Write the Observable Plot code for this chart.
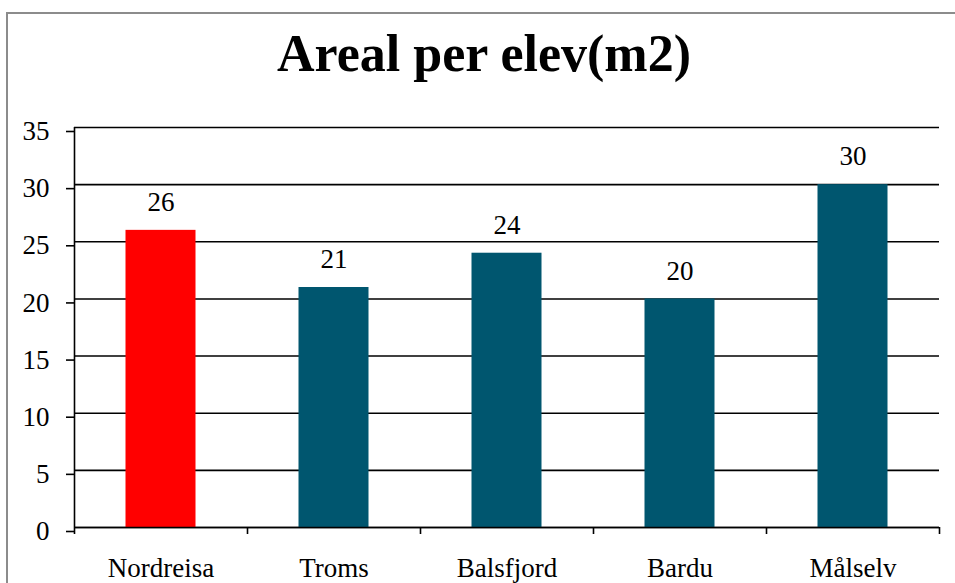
<!DOCTYPE html>
<html>
<head>
<meta charset="utf-8">
<script src="https://cdn.jsdelivr.net/npm/d3@7"></script>
<script src="https://cdn.jsdelivr.net/npm/@observablehq/plot@0.6"></script>
<style>
  html, body { margin: 0; padding: 0; background: #fff; overflow: hidden; }
  #wrap { position: relative; width: 955px; height: 583px; overflow: hidden; background: #fff; }
  #frame { position: absolute; left: 6px; top: 12px; width: 1200px; height: 1200px;
           border: 2px solid #8c8c8c; pointer-events: none; }
  #title { height: 110px; box-sizing: border-box; padding-top: 28px; padding-left: 13px;
           font: bold 52px/52px "Liberation Serif", serif; text-align: center; color: #000; }
  #chart svg { display: block; }
</style>
</head>
<body>
<div id="wrap">
  <div id="frame"></div>
  <div id="title">Areal per elev(m2)</div>
  <div id="chart"></div>
</div>
<script>
const categories = ["Nordreisa", "Troms", "Balsfjord", "Bardu", "Målselv"];
const values = [26, 21, 24, 20, 30];
const yTicks = [0, 5, 10, 15, 20, 25, 30, 35];
const highlight = "Nordreisa";

const data = categories.map((name, i) => ({name, value: values[i]}));

const W = 955, H = 473, mL = 74, mR = 16, mT = 17, mB = 56;
const bw = (W - mL - mR) / categories.length;
const barW = 70;
const inset = (bw - barW) / 2;
const teal = "#00566f", red = "#ff0000";
const font = "Liberation Serif";

const chart = Plot.plot({
  width: W, height: H,
  marginLeft: mL, marginRight: mR, marginTop: mT, marginBottom: mB,
  style: {fontFamily: font, fontSize: "27px", color: "#000", background: "transparent", overflow: "visible"},
  x: {domain: categories, paddingInner: 0, paddingOuter: 0, label: null},
  y: {domain: [0, 35], label: null},
  color: {type: "identity"},
  marks: [
    Plot.ruleY(yTicks, {stroke: "#000", strokeWidth: 1.6}),
    Plot.barY(data, {x: "name", y: "value", fill: d => d.name === highlight ? red : teal,
                     insetLeft: inset, insetRight: inset}),
    Plot.ruleY([0], {stroke: "#000", strokeWidth: 1.6}),
    // y axis line (extends below to tick length)
    Plot.ruleX([categories[0]], {x: d => d, dx: -bw / 2, y1: 35, y2: 0, insetBottom: -7, stroke: "#000", strokeWidth: 1.6}),
    // category boundary ticks
    Plot.ruleX(categories, {x: d => d, dx: bw / 2, y1: 0, y2: 0, insetBottom: -7, stroke: "#000", strokeWidth: 1.6}),
    Plot.axisY({ticks: yTicks, tickSize: 8, tickPadding: 17, dy: 4, strokeWidth: 1.6, label: null, fontSize: 27}),
    Plot.axisX({tickSize: 0, tickPadding: 30, label: null, fontSize: 27}),
    Plot.text(data, {x: "name", y: "value", text: d => String(d.value), dy: -28, fontSize: 27, fill: "#000"})
  ]
});
document.getElementById("chart").appendChild(chart);
</script>
</body>
</html>
